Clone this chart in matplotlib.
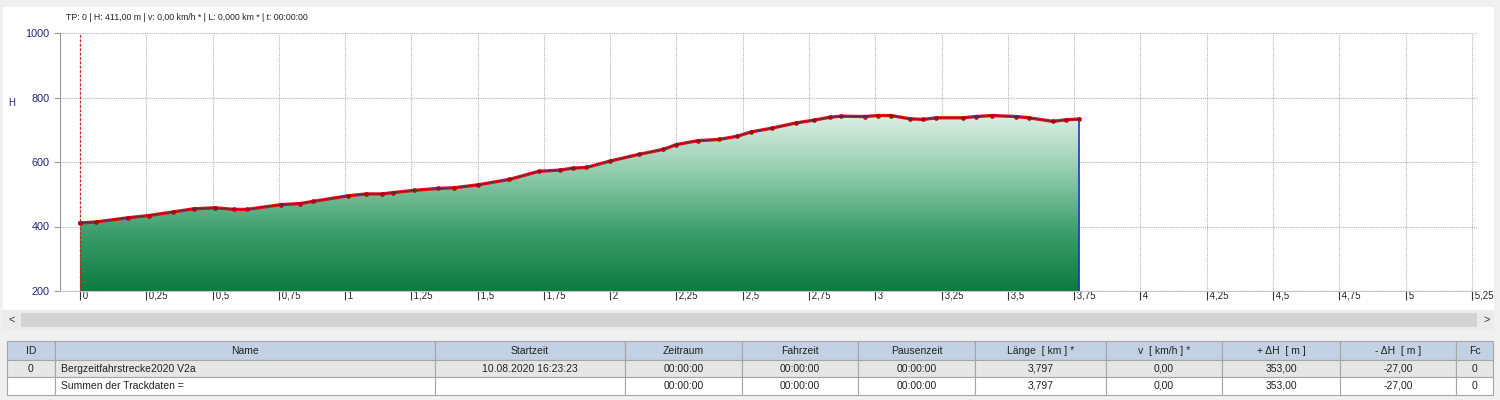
import numpy as np
import matplotlib.pyplot as plt
from matplotlib.colors import LinearSegmentedColormap
from matplotlib.patches import Rectangle, Polygon

plt.rcParams['font.family'] = ['Liberation Sans', 'DejaVu Sans']

# Höhenprofil (km / m)
km = [0.00, 0.06, 0.18, 0.26, 0.35, 0.43, 0.51, 0.58, 0.63, 0.76, 0.83, 0.88,
      1.01, 1.08, 1.14, 1.18, 1.26, 1.35, 1.41, 1.50, 1.62, 1.73, 1.81, 1.86,
      1.91, 2.00, 2.11, 2.20, 2.25, 2.33, 2.41, 2.48, 2.53, 2.61, 2.70, 2.77,
      2.83, 2.87, 2.96, 3.01, 3.06, 3.13, 3.18, 3.23, 3.33, 3.38, 3.44, 3.53,
      3.58, 3.67, 3.72, 3.77]
hoehe = [411, 414, 427, 434, 445, 455, 458, 453, 453, 468, 471, 478,
         495, 501, 501, 505, 512, 518, 520, 529, 546, 571, 575, 581,
         583, 603, 624, 639, 654, 666, 670, 680, 693, 705, 721, 730,
         739, 742, 741, 744, 744, 734, 732, 737, 737, 741, 744, 741,
         737, 726, 731, 733]

x_ticks = [0, 0.25, 0.5, 0.75, 1, 1.25, 1.5, 1.75, 2, 2.25, 2.5, 2.75,
           3, 3.25, 3.5, 3.75, 4, 4.25, 4.5, 4.75, 5, 5.25]
x_labels = ['0', '0,25', '0,5', '0,75', '1', '1,25', '1,5', '1,75', '2', '2,25',
            '2,5', '2,75', '3', '3,25', '3,5', '3,75', '4', '4,25', '4,5',
            '4,75', '5', '5,25']
y_ticks = [200, 400, 600, 800, 1000]
info_text = 'TP: 0 | H: 411,00 m | v: 0,00 km/h * | L: 0,000 km * | t: 00:00:00'

col_names = ['ID', 'Name', 'Startzeit', 'Zeitraum', 'Fahrzeit', 'Pausenzeit',
             'Länge  [ km ] *', 'v  [ km/h ] *', '+ ΔH  [ m ]', '- ΔH  [ m ]', 'Fc']
row_track = ['0', 'Bergzeitfahrstrecke2020 V2a', '10.08.2020 16:23:23', '00:00:00',
             '00:00:00', '00:00:00', '3,797', '0,00', '353,00', '-27,00', '0']
row_sum = ['', 'Summen der Trackdaten =', '', '00:00:00', '00:00:00', '00:00:00',
           '3,797', '0,00', '353,00', '-27,00', '0']
col_edges = [7, 55, 435, 625, 742, 858, 975, 1106, 1222, 1340, 1456, 1493]

fig = plt.figure(figsize=(15, 4), dpi=100, facecolor='#f0f0f0')

# Hintergrund / Rahmen in Pixelkoordinaten
bg = fig.add_axes([0, 0, 1, 1], zorder=0)
bg.set_xlim(0, 1500)
bg.set_ylim(400, 0)
bg.axis('off')
bg.add_patch(Rectangle((3, 7), 1491, 303, facecolor='white', edgecolor='none'))
bg.add_patch(Rectangle((3, 310), 1491, 20, facecolor='#ebebeb', edgecolor='none'))
bg.add_patch(Rectangle((21, 313), 1456, 14, facecolor='#d4d4d4', edgecolor='none'))
bg.text(12, 320, '<', ha='center', va='center', fontsize=8, color='#333333')
bg.text(1487, 320, '>', ha='center', va='center', fontsize=8, color='#333333')
bg.text(12, 103, 'H', ha='center', va='center', fontsize=7, color='#23237a')
bg.text(66, 17, info_text, ha='left', va='center', fontsize=6.3, color='#222222')

# Tabelle
row_tops = [341, 360, 377]
row_h = [19, 17, 18]
row_bg = ['#c3d1e4', '#e6e6e6', 'white']
for r, cells in enumerate([col_names, row_track, row_sum]):
    for c, txt in enumerate(cells):
        x0, x1 = col_edges[c], col_edges[c + 1]
        fc = row_bg[r]
        bg.add_patch(Rectangle((x0, row_tops[r]), x1 - x0, row_h[r],
                               facecolor=fc, edgecolor='#a6a6a6', lw=0.8))
        yc = row_tops[r] + row_h[r] / 2
        if c == 1 and r > 0:
            bg.text(x0 + 6, yc, txt, ha='left', va='center', fontsize=7.5, color='#222222')
        else:
            bg.text((x0 + x1) / 2, yc, txt, ha='center', va='center',
                    fontsize=7.5, color='#222222')

# Diagramm
ax = fig.add_axes([60 / 1500, 1 - 291 / 400, (1478 - 60) / 1500, (291 - 33) / 400], zorder=2)
ax.set_facecolor('none')
ax.set_xlim(-20 / 265.1, (1478 - 80) / 265.1)
ax.set_ylim(200, 1000)

cmap = LinearSegmentedColormap.from_list('gruen', ['#0c7a41', '#3c9d6c', '#8fcbab', '#dcefe5'])
grad = np.linspace(0, 1, 256).reshape(-1, 1)
img = ax.imshow(grad, cmap=cmap, origin='lower', aspect='auto',
                extent=[km[0], km[-1], 200, max(hoehe)], zorder=1)
poly = Polygon(list(zip(km, hoehe)) + [(km[-1], 200), (km[0], 200)],
               closed=True, facecolor='none', edgecolor='none')
ax.add_patch(poly)
img.set_clip_path(poly)

ax.set_xticks(x_ticks)
ax.set_xticklabels([' ' + s for s in x_labels])
ax.set_yticks(y_ticks)
ax.grid(True, color='#b4b4b4', linestyle=(0, (1, 1)), lw=0.8, zorder=0)
ax.set_axisbelow(True)

ax.plot(km, hoehe, color='#e31212', lw=2.4, zorder=4)
ax.plot(km, hoehe, 'o', color='#d00000', ms=2.8, mec='#9a0000', mew=0.4, zorder=5)
ax.plot(km, hoehe, color='#2a2a6a', lw=0.5, zorder=6)
ax.vlines(km[-1], 200, hoehe[-1], color='#1f3f9a', lw=1.2, zorder=6)
ax.axvline(0, color='#d02020', ls=(0, (2, 1.5)), lw=0.9, zorder=7)

for s in ['top', 'right']:
    ax.spines[s].set_visible(False)
ax.spines['left'].set_color('#999999')
ax.spines['bottom'].set_color('#c4c4c4')
ax.tick_params(axis='y', length=4, color='#999999', labelcolor='#23237a', labelsize=7.8)
ax.tick_params(axis='x', length=6.5, pad=-6.5, color='#333333', labelcolor='#222222',
               labelsize=7)
plt.setp(ax.get_xticklabels(), ha='left')

fig.savefig('out.png', dpi=100, facecolor=fig.get_facecolor())
